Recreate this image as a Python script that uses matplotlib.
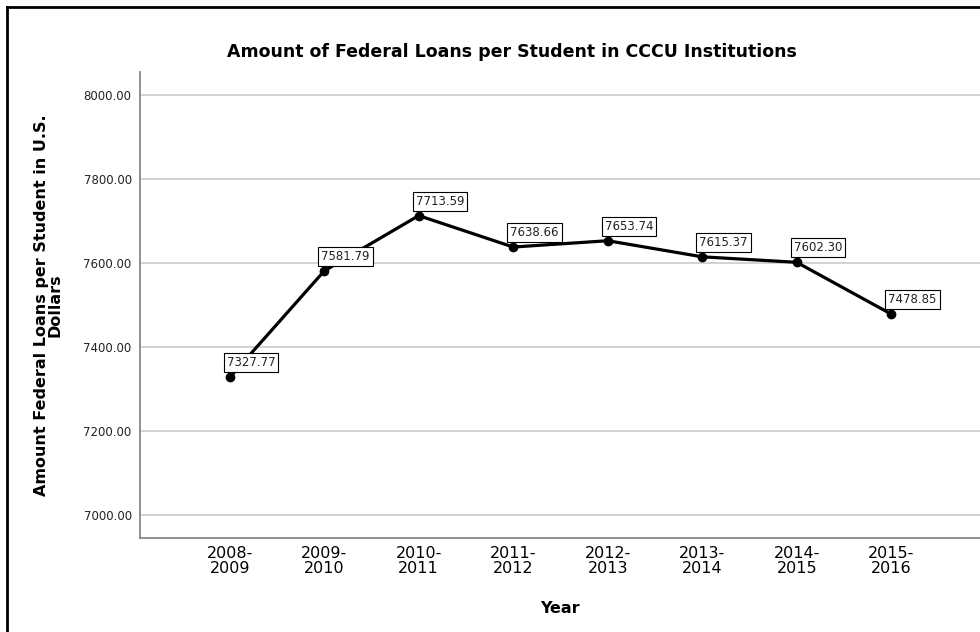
import matplotlib
matplotlib.use('Agg')
import matplotlib.pyplot as plt
from matplotlib.lines import Line2D

# 数据
years = ['2008-\n2009', '2009-\n2010', '2010-\n2011', '2011-\n2012',
         '2012-\n2013', '2013-\n2014', '2014-\n2015', '2015-\n2016']
loans = [7327.77, 7581.79, 7713.59, 7638.66, 7653.74, 7615.37, 7602.30, 7478.85]
yticks = [7000, 7200, 7400, 7600, 7800, 8000]

fig = plt.figure(figsize=(9.8, 6.32), dpi=100)
ax = fig.add_axes([140 / 980, 94 / 632, 840 / 980, 466 / 632])

x = list(range(len(years)))
ax.plot(x, loans, color='black', linewidth=2.3, marker='o', markersize=6, zorder=3)

# 数据标签
for xi, v in zip(x, loans):
    ax.annotate('%.2f' % v, (xi, v), xytext=(-3, 8), textcoords='offset pixels',
                ha='left', va='bottom', fontsize=8.5, color='#222222',
                bbox=dict(boxstyle='square,pad=0.25', fc='white', ec='black', lw=0.8),
                zorder=4)

ax.set_xlim(-0.95, 7.94)
ax.set_ylim(6945, 8056)
ax.set_xticks(x)
ax.set_xticklabels(years, fontsize=11.5, linespacing=0.95)
ax.set_yticks(yticks)
ax.set_yticklabels(['%.2f' % t for t in yticks], fontsize=8.5, color='#222222')
ax.tick_params(axis='both', length=0, pad=6)
ax.grid(axis='y', color='#cfcfcf', linewidth=1.3)
ax.set_axisbelow(True)

for s in ['top', 'right']:
    ax.spines[s].set_visible(False)
for s in ['left', 'bottom']:
    ax.spines[s].set_color('#888888')
    ax.spines[s].set_linewidth(1.3)

ax.set_xlabel('Year', fontsize=11.5, fontweight='bold')
ax.xaxis.set_label_coords(0.5, -0.135)
ax.set_ylabel('Amount Federal Loans per Student in U.S.\nDollars', fontsize=11.5,
              fontweight='bold', linespacing=0.9)
ax.yaxis.set_label_coords(-0.092, 0.5)

fig.text(512 / 980, 1 - 52 / 632, 'Amount of Federal Loans per Student in CCCU Institutions',
         ha='center', va='center', fontsize=12.5, fontweight='bold')

# 外框
fig.add_artist(Line2D([7 / 980, 7 / 980], [0, 1 - 7 / 632], color='black', lw=2))
fig.add_artist(Line2D([7 / 980, 1], [1 - 7 / 632, 1 - 7 / 632], color='black', lw=2))

fig.savefig('out.png', dpi=100)
